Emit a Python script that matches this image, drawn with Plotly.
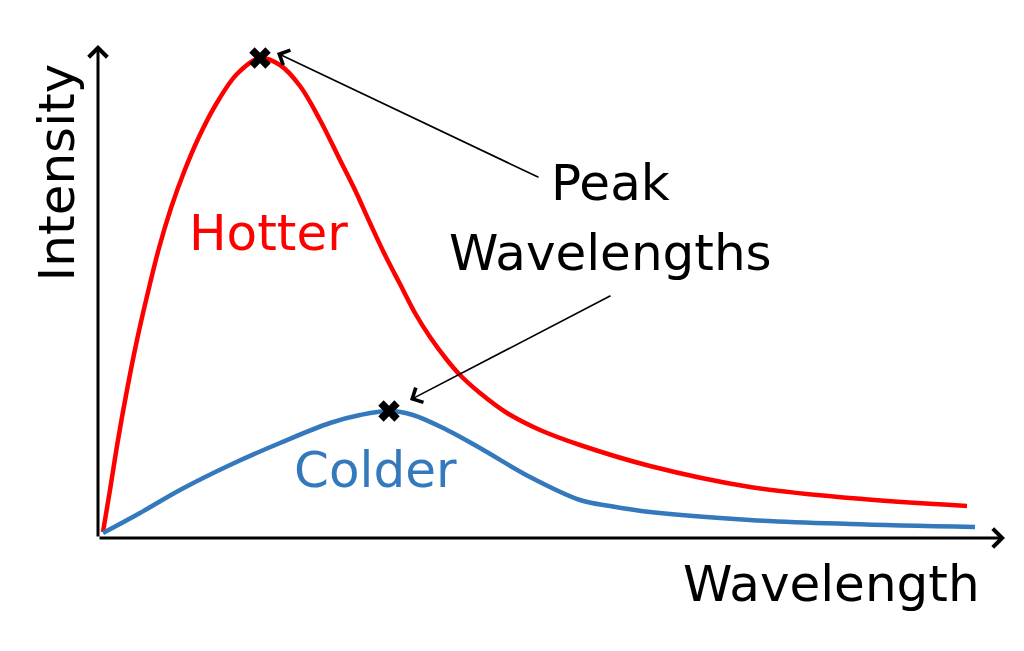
import plotly.graph_objects as go

# ── Data (arbitrary units) ─────────────────────────────────────────────────────
hot_wl = [0.05, 0.12, 0.20, 0.29, 0.39, 0.50, 0.61, 0.73, 0.86, 1.00, 1.17, 1.39,
          1.62, 1.82, 2.02, 2.22, 2.42, 2.57, 2.72, 2.87, 3.02, 3.17, 3.32, 3.49,
          3.62, 3.82, 4.09, 4.42, 4.82, 5.52, 6.52, 7.52, 8.69]
hot_int = [0.12, 0.96, 1.96, 2.96, 3.96, 4.92, 5.80, 6.60, 7.32, 7.98, 8.64, 9.28,
           9.60, 9.46, 9.04, 8.36, 7.56, 6.96, 6.30, 5.66, 5.08, 4.50, 4.02, 3.56,
           3.26, 2.90, 2.50, 2.16, 1.86, 1.44, 1.02, 0.80, 0.64]

cold_wl = [0.05, 0.42, 0.82, 1.32, 1.82, 2.32, 2.62, 2.91, 3.15, 3.49, 3.82, 4.32,
           4.82, 5.12, 5.52, 6.52, 7.52, 8.77]
cold_int = [0.10, 0.50, 0.96, 1.46, 1.90, 2.30, 2.46, 2.54, 2.46, 2.16, 1.80, 1.22,
            0.76, 0.64, 0.52, 0.36, 0.28, 0.22]

peak_wl = [1.62, 2.91]
peak_int = [9.60, 2.54]

X_MAX, Y_MAX = 9.07, 9.86

# ── Style ──────────────────────────────────────────────────────────────────────
FONT = "DejaVu Sans"
FONT_SIZE = 50
RED = "#FF0000"
BLUE = "#3579BD"
BLACK = "#000000"

fig = go.Figure()
fig.add_trace(go.Scatter(x=hot_wl, y=hot_int, mode="lines", line_shape="spline",
                         line=dict(color=RED, width=4.5, smoothing=1), hoverinfo="skip"))
fig.add_trace(go.Scatter(x=cold_wl, y=cold_int, mode="lines", line_shape="spline",
                         line=dict(color=BLUE, width=4.5, smoothing=1), hoverinfo="skip"))
fig.add_trace(go.Scatter(x=peak_wl, y=peak_int, mode="markers",
                         marker=dict(symbol="x", size=19, color=BLACK, line=dict(width=0)),
                         hoverinfo="skip"))

anns = []
# axes with arrows
anns.append(dict(x=X_MAX, y=0, ax=0, ay=0, xref="x", yref="y", axref="x", ayref="y",
                 showarrow=True, arrowhead=4, arrowsize=1.2, arrowwidth=3, arrowcolor=BLACK, text=""))
anns.append(dict(x=0, y=Y_MAX, ax=0, ay=0, xref="x", yref="y", axref="x", ayref="y",
                 showarrow=True, arrowhead=4, arrowsize=1.2, arrowwidth=3, arrowcolor=BLACK, text=""))
# pointer arrows
anns.append(dict(x=1.79, y=9.70, ax=4.42, ay=7.20, xref="x", yref="y", axref="x", ayref="y",
                 showarrow=True, arrowhead=4, arrowsize=2, arrowwidth=1.6, arrowcolor=BLACK, text=""))
anns.append(dict(x=3.12, y=2.76, ax=5.14, ay=4.86, xref="x", yref="y", axref="x", ayref="y",
                 showarrow=True, arrowhead=4, arrowsize=2, arrowwidth=1.6, arrowcolor=BLACK, text=""))


def label(text, x, y, color, angle=0, paper=False):
    ref = "paper" if paper else None
    return dict(text=text, x=x, y=y, xref=ref or "x", yref=ref or "y",
                showarrow=False, xanchor="center", yanchor="middle", textangle=angle,
                font=dict(family=FONT, size=FONT_SIZE, color=color))


anns.append(label("Peak", 5.12, 7.10, BLACK))
anns.append(label("Wavelengths", 5.12, 5.70, BLACK))
anns.append(label("Hotter", 1.70, 6.10, RED))
anns.append(label("Colder", 2.77, 1.36, BLUE))
anns.append(label("Wavelength", 0.809, -0.093, BLACK, paper=True))
anns.append(label("Intensity", -0.045, 0.742, BLACK, angle=-90, paper=True))

fig.update_layout(
    width=1024, height=651,
    paper_bgcolor="white", plot_bgcolor="white",
    # page body adds an 8px offset, so margins are shifted to compensate
    margin=dict(l=90, r=27, t=37, b=121),
    showlegend=False,
    annotations=anns,
    xaxis=dict(range=[0, X_MAX], visible=False, fixedrange=True),
    yaxis=dict(range=[0, Y_MAX], visible=False, fixedrange=True),
)

fig.write_html("out.html", config={"displayModeBar": False})
